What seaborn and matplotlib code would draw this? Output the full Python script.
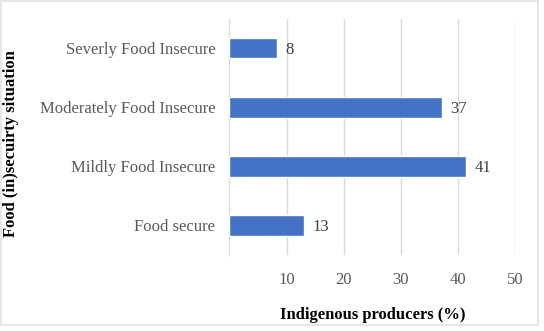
import matplotlib
matplotlib.use("Agg")
import matplotlib.pyplot as plt
from matplotlib.patches import Rectangle
import seaborn as sns
import pandas as pd

categories = ["Severly Food Insecure", "Moderately Food Insecure", "Mildly Food Insecure", "Food secure"]
values = [8.3, 37.2, 41.4, 13.0]
value_labels = ["8", "37", "41", "13"]
xticks = [10, 20, 30, 40, 50]

sns.set_theme(style="white")
plt.rcParams['font.family'] = ['Liberation Serif', 'DejaVu Serif']

df = pd.DataFrame({"cat": categories, "val": values})

W, H = 544, 331
fig = plt.figure(figsize=(W/100, H/100), dpi=100)
# chart border
fig.add_artist(Rectangle((0.5/W, 1 - 325/H), 537.5/W, 324/H, transform=fig.transFigure,
                         fill=False, edgecolor="#e3e3e3", linewidth=1.2))

ax = fig.add_axes([229.3/W, 1-255/H, (515.3-229.3)/W, (255-18.5)/H])

sns.barplot(data=df, x="val", y="cat", orient="h", color="#4472C4", saturation=1,
            width=0.35, ax=ax, zorder=3)

for p, lab in zip(ax.patches, value_labels):
    ax.text(p.get_width() + 1.5, p.get_y() + p.get_height()/2, lab,
            va="center_baseline", ha="left", fontsize=12, color="#404040")

ax.set_xlim(0, 50)
ax.set_ylim(3.5, -0.5)
ax.set_xticks(xticks)
ax.set_xticklabels([str(t) for t in xticks])
for t in xticks:
    ax.axvline(t, color="#d9d9d9", lw=1, zorder=0)
for s in ["top", "right", "bottom"]:
    ax.spines[s].set_visible(False)
ax.spines["left"].set_color("#d9d9d9")
ax.spines["left"].set_linewidth(1)
ax.tick_params(axis="x", length=0, pad=12, labelsize=12, labelcolor="#595959")
ax.tick_params(axis="y", length=0, pad=10, labelsize=12, labelcolor="#595959")

ax.set_xlabel("Indigenous producers (%)", fontsize=12, fontweight="bold", color="black")
ax.set_ylabel("Food (in)secuirty situation", fontsize=12, fontweight="bold", color="black")
ax.xaxis.set_label_coords(0.5, -(307-255)/236.5, transform=ax.transAxes)
ax.yaxis.set_label_coords(-(229.3-19)/286, (255-144)/236.5, transform=ax.transAxes)

fig.savefig("out.png", dpi=100)
